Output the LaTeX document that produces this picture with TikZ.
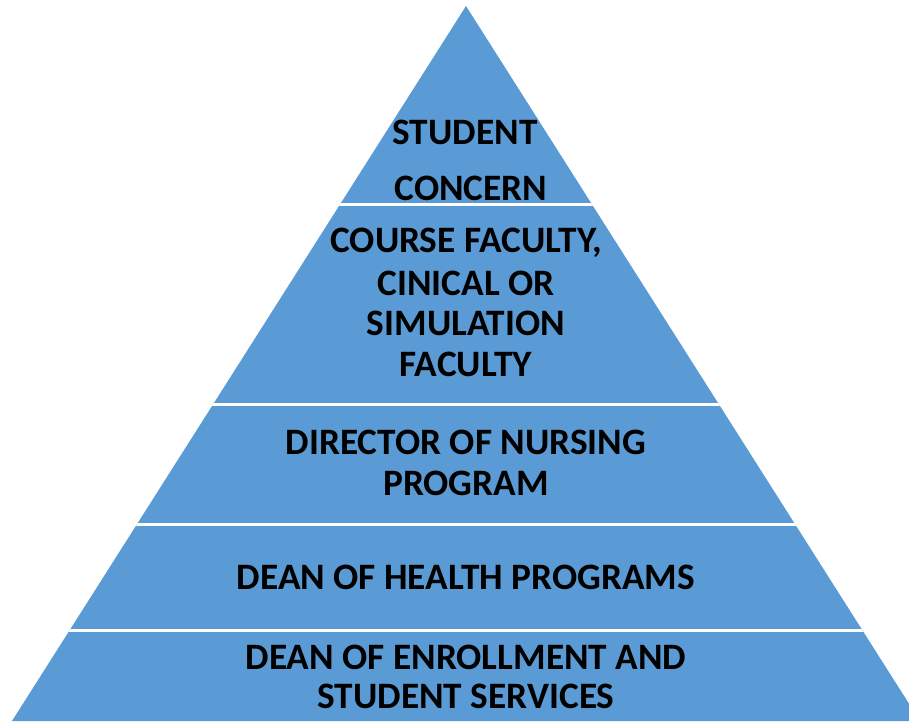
\documentclass[tikz,border=0pt]{standalone}
\usepackage{fontspec}
\setmainfont{Carlito}
\definecolor{pyrblue}{HTML}{5B9BD5}
\tikzset{
  lbl/.style={font=\fontsize{37.3}{40}\selectfont\bfseries, text=black, align=center, inner sep=0pt},
  sep/.style={draw=white, line width=3pt}
}
\begin{document}
\begin{tikzpicture}[x=1pt,y=-1pt]
\useasboundingbox (0,0) rectangle (909,721);
\clip (0,0) rectangle (909,721);
\coordinate (apex) at (466,6);
\coordinate (bl) at (12,721);
\coordinate (br) at (920,721);
\fill[pyrblue] (apex) -- (bl) -- (br) -- cycle;
\begin{scope}
\clip (apex) -- (bl) -- (br) -- cycle;
\draw[sep] (0,204) -- (909,204);
\draw[sep] (0,404) -- (909,404);
\draw[sep] (0,524) -- (909,524);
\draw[sep] (0,630) -- (909,630);
\end{scope}
\node[lbl] (t1) at (465,132) {STUDENT};
\node[lbl] (t2) at (471,188) {CONCERN};
\node[lbl] (t3) at (466,243) {COURSE FACULTY,};
\node[lbl] (t4) at (466,283) {CINICAL OR};
\node[lbl] (t5) at (466,323) {SIMULATION};
\node[lbl] (t6) at (466,364) {FACULTY};
\node[lbl] (t7) at (466,442) {DIRECTOR OF NURSING};
\node[lbl] (t8) at (466,483) {PROGRAM};
\node[lbl] (t9) at (466,577) {DEAN OF HEALTH PROGRAMS};
\node[lbl] (t10) at (466,657) {DEAN OF ENROLLMENT AND};
\node[lbl] (t11) at (466,696) {STUDENT SERVICES};
\end{tikzpicture}
\end{document}
